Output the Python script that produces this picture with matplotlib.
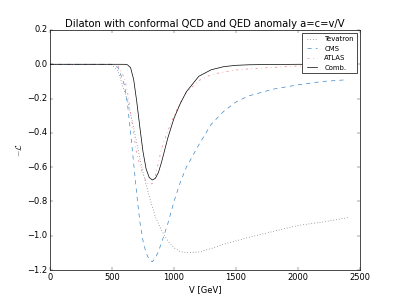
import matplotlib
matplotlib.use("Agg")
import matplotlib.pyplot as plt

plt.style.use("classic")

V = [0, 200, 400, 500, 550, 600, 625, 650, 675, 700, 725, 750, 775, 800, 825,
     850, 875, 900, 950, 1000, 1050, 1100, 1200, 1300, 1400, 1500, 1600, 1800,
     2000, 2200, 2400]

tevatron = [0, 0, 0, -0.003, -0.04, -0.16, -0.21, -0.29, -0.37, -0.46, -0.55,
            -0.63, -0.70, -0.77, -0.83, -0.89, -0.93, -0.97, -1.03, -1.07,
            -1.092, -1.10, -1.095, -1.075, -1.05, -1.03, -1.01, -0.975, -0.94,
            -0.92, -0.895]

cms = [0, 0, 0, 0, -0.02, -0.12, -0.23, -0.40, -0.58, -0.76, -0.92, -1.03,
       -1.1, -1.14, -1.152, -1.13, -1.09, -1.04, -0.93, -0.80, -0.69, -0.6,
       -0.47, -0.35, -0.275, -0.22, -0.185, -0.145, -0.12, -0.1, -0.09]

atlas = [0, 0, 0, 0, -0.01, -0.08, -0.16, -0.28, -0.41, -0.52, -0.59, -0.64,
         -0.685, -0.703, -0.695, -0.65, -0.57, -0.49, -0.39, -0.3, -0.225,
         -0.165, -0.095, -0.06, -0.045, -0.033, -0.027, -0.018, -0.01, -0.007,
         -0.005]

comb = [0, 0, 0, 0, 0, 0, -0.003, -0.02, -0.09, -0.22, -0.37, -0.51, -0.61,
        -0.66, -0.675, -0.665, -0.63, -0.57, -0.43, -0.315, -0.23, -0.16,
        -0.07, -0.032, -0.014, -0.006, -0.003, -0.001, 0, 0, 0]

fig = plt.figure(figsize=(8, 6), dpi=50)
ax = fig.add_subplot(111)
ax.plot(V, tevatron, ':', color='#555555', label='Tevatron')
ax.plot(V, cms, '--', color='#3a87c9', label='CMS')
ax.plot(V, atlas, '-.', color='#f07c84', label='ATLAS')
ax.plot(V, comb, '-', color='black', label='Comb.')

ax.set_xlim(0, 2500)
ax.set_ylim(-1.2, 0.2)
ax.set_xlabel('V [GeV]')
ax.set_ylabel(r'$-\mathcal{L}$')
ax.set_title('Dilaton with conformal QCD and QED anomaly a=c=v/V')
ax.legend(loc='upper right', fontsize='small')

fig.savefig('out.png', dpi=50)
